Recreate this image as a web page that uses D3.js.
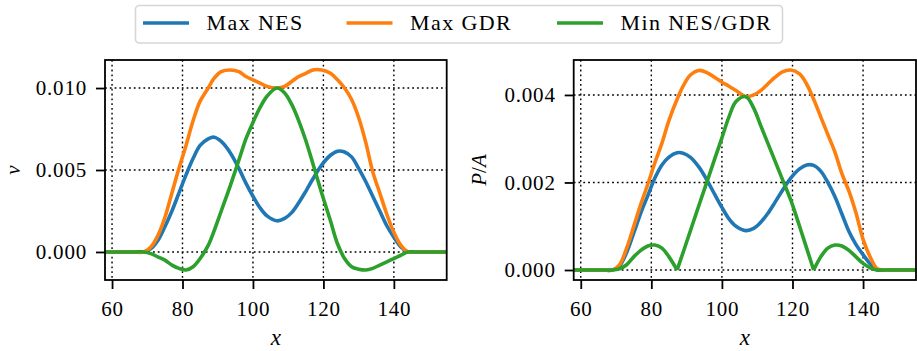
<!DOCTYPE html>
<html>
<head>
<meta charset="utf-8">
<script src="https://cdn.jsdelivr.net/npm/d3@7"></script>
<style>
  body { margin: 0; background: #fff; }
  text { fill: #000; font-family: "Liberation Serif", "DejaVu Serif", serif; }
</style>
</head>
<body>
<div class="chart"></div>
<script>
// valeurs
const xs = [58, 66, 69, 71, 73, 75, 77, 79, 81, 83, 85, 87.3, 89, 91, 93.5, 96, 98, 100, 102, 104,
            106.8, 109, 111, 113, 115, 117, 119.5, 122, 124, 126, 128, 130, 132, 134, 136, 138, 140, 142, 144, 146, 155];

const vNes = [0, 0, 0, 0.0002, 0.0007, 0.00154, 0.0025, 0.0036, 0.0047, 0.0057, 0.0065, 0.0069, 0.0070, 0.00674,
              0.00607, 0.0051, 0.0042, 0.0034, 0.0027, 0.0022, 0.0019, 0.00205, 0.0024, 0.0030, 0.0037, 0.00445,
              0.0053, 0.0059, 0.00615, 0.0061, 0.0058, 0.0051, 0.0043, 0.0034, 0.0025, 0.0016, 0.0009, 0.0003, 0, 0, 0];
const vGdr = [0, 0, 0, 0.0003, 0.0010, 0.0021, 0.0036, 0.0051, 0.0065, 0.0080, 0.0092, 0.0100, 0.0106, 0.0110,
              0.0111, 0.0110, 0.0107, 0.0105, 0.0103, 0.0101, 0.0100, 0.0101, 0.0104, 0.0107, 0.0109, 0.0111,
              0.0111, 0.0109, 0.0105, 0.0100, 0.0093, 0.0082, 0.0067, 0.0049, 0.0036, 0.0023, 0.0012, 0.0004, 0, 0, 0];
const vMin = [0, 0, 0, -0.0001, -0.0003, -0.0005, -0.0008, -0.0010, -0.0011, -0.0009, -0.0004, 0.0004, 0.0013,
              0.0025, 0.0040, 0.0056, 0.0069, 0.0079, 0.0088, 0.0095, 0.0100, 0.0097, 0.0090, 0.0080, 0.0068,
              0.0054, 0.0036, 0.0019, 0.0005, -0.0004, -0.0009, -0.00105, -0.0011, -0.0010, -0.0008, -0.0006,
              -0.0004, -0.0002, 0, 0, 0];

const pNes = [0, 0, 0, 0.0001, 0.0004, 0.00084, 0.0013, 0.0017, 0.0021, 0.0024, 0.00258, 0.00268, 0.00267, 0.00258,
              0.00235, 0.00202, 0.00172, 0.00143, 0.00117, 0.0010, 0.0009, 0.00095, 0.00109, 0.00129, 0.00154, 0.0018,
              0.0021, 0.00231, 0.0024, 0.00239, 0.00226, 0.0020, 0.00168, 0.00128, 0.00088, 0.00058, 0.00035, 0.00014, 0, 0, 0];
const pGdr = [0, 0, 0, 0.00012, 0.0005, 0.00099, 0.0015, 0.00196, 0.00245, 0.0029, 0.00342, 0.0039, 0.0042, 0.00445,
              0.00456, 0.0045, 0.0044, 0.00429, 0.0042, 0.0041, 0.00396, 0.0040, 0.0041, 0.00425, 0.0044, 0.00452,
              0.00457, 0.00448, 0.00425, 0.0039, 0.0035, 0.0031, 0.0027, 0.0022, 0.0018, 0.0013, 0.0007, 0.0003, 0.00003, 0, 0];
const pMin = [0, 0, 0, 0.00003, 0.00012, 0.0003, 0.00045, 0.00055, 0.00057, 0.0005, 0.0003, 0, 0.0004, 0.00088,
              0.00148, 0.00207, 0.00255, 0.00302, 0.0035, 0.00385, 0.00396, 0.0037, 0.0033, 0.0029, 0.0025, 0.0021,
              0.0016, 0.0010, 0.0005, 0, 0.0003, 0.0005, 0.00057, 0.00055, 0.00045, 0.0003, 0.00015, 0.00005, 0, 0, 0];
const pMinCusps = [87.3, 126]; // points anguleux de la courbe verte (droite)

const seriesNames = ["Max NES", "Max GDR", "Min NES/GDR"];
const colors = ["#1f77b4", "#ff7f0e", "#2ca02c"];
const xTicks = [60, 80, 100, 120, 140];
const vTicks = [0, 0.005, 0.010];
const pTicks = [0, 0.002, 0.004];

const width = 917;
const height = 351;

const svg = d3.select("div.chart")
    .append("svg")
    .attr("width", width)
    .attr("height", height);

// coupe une serie aux points anguleux pour garder la pointe
function splitAt(ys, cusps) {
    let segs = [[]];
    xs.forEach(function(x, i) {
        segs[segs.length - 1].push([x, ys[i]]);
        if (cusps.indexOf(x) >= 0) segs.push([[x, ys[i]]]);
    });
    return segs;
}

function drawPanel(opt) {
    const x = d3.scaleLinear().domain([58, 155]).range([opt.left, opt.right]);
    const all = opt.series.flat();
    const lo = d3.min(all), hi = d3.max(all), pad = (hi - lo) * 0.05;
    const y = d3.scaleLinear().domain([lo - pad, hi + pad]).range([280, 60]);

    const g = svg.append("g");

    // grille
    g.append("g").selectAll("line.gx")
        .data(xTicks).enter().append("line")
        .attr("x1", d => x(d)).attr("x2", d => x(d))
        .attr("y1", 60).attr("y2", 280);
    g.append("g").selectAll("line.gy")
        .data(opt.ticks).enter().append("line")
        .attr("x1", opt.left).attr("x2", opt.right)
        .attr("y1", d => y(d)).attr("y2", d => y(d));
    g.selectAll("line")
        .attr("stroke", "#000")
        .attr("stroke-width", 1.4)
        .attr("stroke-dasharray", "1.8,3");

    const clipId = "clip" + Math.round(opt.left);
    svg.append("clipPath").attr("id", clipId)
        .append("rect")
        .attr("x", opt.left).attr("y", 60)
        .attr("width", opt.right - opt.left).attr("height", 220);

    const line = d3.line()
        .x(d => x(d[0]))
        .y(d => y(d[1]))
        .curve(d3.curveCatmullRom.alpha(0.5));

    opt.series.forEach(function(ys, i) {
        const cusps = i === 2 ? opt.cusps : [];
        g.append("g").attr("clip-path", "url(#" + clipId + ")")
            .selectAll("path")
            .data(splitAt(ys, cusps))
            .enter().append("path")
            .attr("d", line)
            .attr("fill", "none")
            .attr("stroke", colors[i])
            .attr("stroke-width", 3.6)
            .attr("stroke-linejoin", "round");
    });

    // axes
    const xAxis = d3.axisBottom(x).tickValues(xTicks).tickSize(9).tickPadding(7);
    const yAxis = d3.axisLeft(y).tickValues(opt.ticks).tickFormat(d3.format(".3f")).tickSize(9).tickPadding(9);

    const gx = g.append("g").attr("transform", "translate(0,280)").call(xAxis);
    const gy = g.append("g").attr("transform", "translate(" + opt.left + ",0)").call(yAxis);
    [gx, gy].forEach(function(a) {
        a.select(".domain").remove();
        a.attr("font-family", null).attr("font-size", null);
        a.selectAll(".tick line").attr("stroke", "#000").attr("stroke-width", 1.8);
        a.selectAll(".tick text")
            .attr("fill", "#000")
            .attr("font-size", 21)
            .attr("letter-spacing", 0.8);
    });
    gx.selectAll(".tick text").attr("dy", "0.95em");
    gy.selectAll(".tick text").attr("dy", "0.33em");

    g.append("rect")
        .attr("x", opt.left).attr("y", 60)
        .attr("width", opt.right - opt.left).attr("height", 220)
        .attr("fill", "none")
        .attr("stroke", "#000")
        .attr("stroke-width", 1.8);

    g.append("text")
        .attr("x", (opt.left + opt.right) / 2)
        .attr("y", 345)
        .attr("text-anchor", "middle")
        .attr("font-style", "italic")
        .attr("font-size", 23)
        .text("x");

    const yl = g.append("text")
        .attr("transform", "translate(" + opt.labelX + ",170) rotate(-90)")
        .attr("text-anchor", "middle")
        .attr("font-size", 21);
    opt.label.forEach(function(part) {
        yl.append("tspan").attr("font-style", part[1] ? "italic" : "normal").text(part[0]);
    });
}

drawPanel({ left: 105, right: 446.7, series: [vNes, vGdr, vMin], ticks: vTicks, cusps: [],
            labelX: 20, label: [["v", true]] });
drawPanel({ left: 573.7, right: 916, series: [pNes, pGdr, pMin], ticks: pTicks, cusps: pMinCusps,
            labelX: 486, label: [["P", true], ["/", false], ["A", true]] });

// legende
const legend = svg.append("g");
legend.append("rect")
    .attr("x", 135.5).attr("y", 5.5)
    .attr("width", 647).attr("height", 37.5)
    .attr("rx", 4)
    .attr("fill", "#fff")
    .attr("stroke", "#d6d6d6")
    .attr("stroke-width", 1.6);

const legendX = [143, 346.5, 557];
seriesNames.forEach(function(name, i) {
    legend.append("line")
        .attr("x1", legendX[i]).attr("x2", legendX[i] + 46)
        .attr("y1", 23).attr("y2", 23)
        .attr("stroke", colors[i])
        .attr("stroke-width", 3.6);
    legend.append("text")
        .attr("x", legendX[i] + 63.5)
        .attr("y", 30)
        .attr("font-size", 22)
        .attr("letter-spacing", 1.4)
        .text(name);
});
</script>
</body>
</html>
